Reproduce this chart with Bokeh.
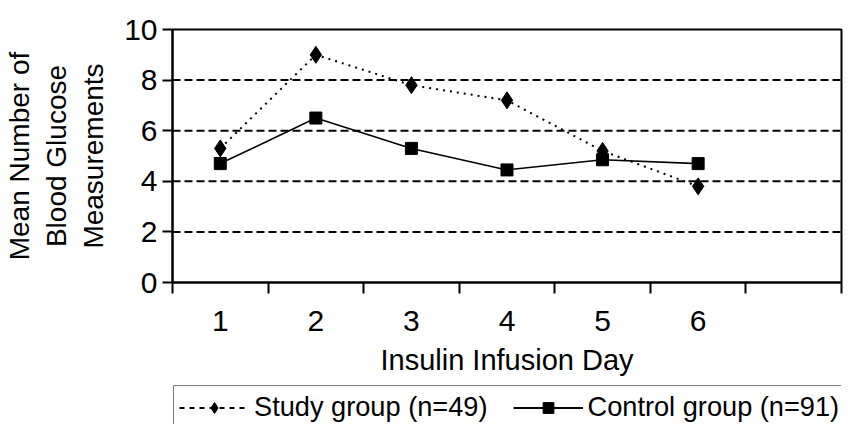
from bokeh.plotting import figure
from bokeh.layouts import column
from bokeh.models import (Range1d, FixedTicker, Legend, LegendItem, Span,
                          ColumnDataSource)
from bokeh.embed import file_html
from bokeh.resources import INLINE

# ---- data ----
days = [1, 2, 3, 4, 5, 6]
day_labels = ["1", "2", "3", "4", "5", "6"]
n_slots = 7
study = [5.3, 9.0, 7.8, 7.2, 5.2, 3.8]
control = [4.7, 6.5, 5.3, 4.45, 4.85, 4.7]
y_ticks = [0, 2, 4, 6, 8, 10]
grid_levels = [2, 4, 6, 8]
study_label = "Study group (n=49)"
control_label = "Control group (n=91)"

FONT = "Liberation Sans"

p = figure(width=846, height=384, output_backend="svg", toolbar_location=None,
           x_range=Range1d(0.5, n_slots + 0.5), y_range=Range1d(0, 10),
           min_border_left=162, min_border_right=5, min_border_top=29,
           min_border_bottom=102)
p.grid.visible = False
p.outline_line_color = "black"
p.outline_line_width = 2
p.background_fill_color = "white"
p.border_fill_color = "white"

for lv in grid_levels:
    p.add_layout(Span(location=lv, dimension="width", line_color="black",
                      line_width=2, line_dash="8 4"))

# x axis
xa = p.xaxis[0]
xa.ticker = FixedTicker(ticks=days,
                        minor_ticks=[i + 0.5 for i in range(n_slots + 1)])
xa.major_label_overrides = {d: l for d, l in zip(days, day_labels)}
xa.major_tick_out = 0
xa.major_tick_in = 0
xa.minor_tick_out = 11
xa.minor_tick_in = 0
xa.minor_tick_line_width = 2
xa.minor_tick_line_color = "black"
xa.axis_line_width = 2
xa.axis_line_color = "black"
xa.major_label_text_font = FONT
xa.major_label_text_font_size = "30px"
xa.major_label_text_color = "black"
xa.major_label_standoff = 17
xa.axis_label = "Insulin Infusion Day"
xa.axis_label_text_font = FONT
xa.axis_label_text_font_size = "29px"
xa.axis_label_text_font_style = "normal"
xa.axis_label_text_color = "black"
xa.axis_label_standoff = 10

# y axis
ya = p.yaxis[0]
ya.ticker = FixedTicker(ticks=y_ticks, minor_ticks=[])
ya.major_tick_out = 10
ya.major_tick_in = 0
ya.major_tick_line_width = 2
ya.major_tick_line_color = "black"
ya.axis_line_width = 2
ya.axis_line_color = "black"
ya.major_label_text_font = FONT
ya.major_label_text_font_size = "30px"
ya.major_label_text_color = "black"
ya.major_label_standoff = 5
ya.axis_label = "Mean Number of\nBlood Glucose\nMeasurements"
ya.axis_label_text_font = FONT
ya.axis_label_text_font_size = "28px"
ya.axis_label_text_font_style = "normal"
ya.axis_label_text_color = "black"
ya.axis_label_standoff = 12

src = ColumnDataSource(dict(day=days, study=study, control=control))

STUDY_LINE = dict(line_color="black", line_width=2, line_dash="2 5")
CONTROL_LINE = dict(line_color="black", line_width=1.6)
STUDY_MARK = dict(marker="diamond", size=17, fill_color="black", line_color="black")
CONTROL_MARK = dict(marker="square", size=12, fill_color="black", line_color="black")

p.line("day", "study", source=src, **STUDY_LINE)
p.scatter("day", "study", source=src, **STUDY_MARK)
p.line("day", "control", source=src, **CONTROL_LINE)
p.scatter("day", "control", source=src, **CONTROL_MARK)

# ---- legend strip below the chart (its series lie outside its view) ----
q = figure(width=846, height=40, output_backend="svg", toolbar_location=None,
           x_axis_type=None, y_axis_type=None,
           x_range=p.x_range, y_range=Range1d(-2, -1),
           min_border_left=164, min_border_right=0, min_border_top=0,
           min_border_bottom=0)
q.grid.visible = False
q.outline_line_color = None
q.background_fill_color = "white"
q.border_fill_color = "white"

ls = q.line("day", "study", source=src, line_color="black", line_width=2,
            line_dash="5 5")
ms = q.scatter("day", "study", source=src, **STUDY_MARK)
lc = q.line("day", "control", source=src, line_color="black", line_width=2)
mc = q.scatter("day", "control", source=src, **CONTROL_MARK)

legend = Legend(items=[LegendItem(label=study_label, renderers=[ls, ms]),
                       LegendItem(label=control_label, renderers=[lc, mc])],
                orientation="horizontal", location="top_left",
                label_text_font=FONT, label_text_font_size="27.2px",
                label_text_color="black", border_line_color="black",
                border_line_width=1.5, padding=5, spacing=25, glyph_width=70,
                glyph_height=27, label_standoff=5, label_height=27, margin=1,
                background_fill_color="white", background_fill_alpha=1)
q.add_layout(legend, "center")

layout = column(p, q, spacing=0)

open("out.html", "w").write(file_html(layout, INLINE))
